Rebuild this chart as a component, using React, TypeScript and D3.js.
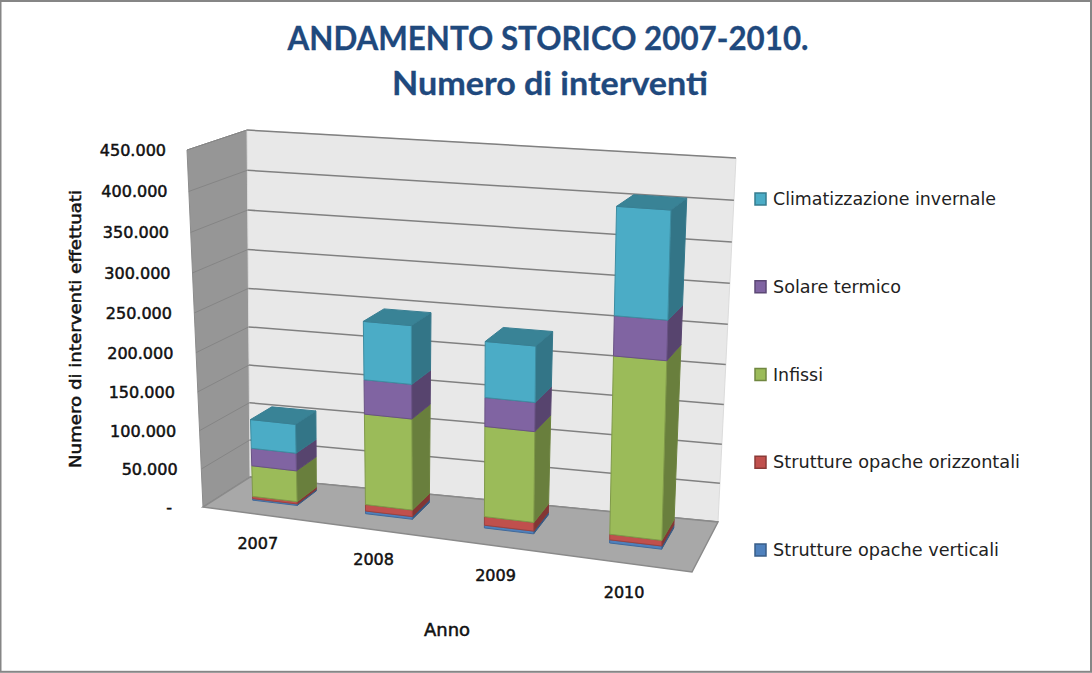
import React from "react";
import * as d3 from "d3";

const WIDTH = 1092;
const HEIGHT = 673;

const years = ["2007", "2008", "2009", "2010"];
const seriesNames = [
  "Strutture opache verticali",
  "Strutture opache orizzontali",
  "Infissi",
  "Solare termico",
  "Climatizzazione invernale",
];
const seriesColors = ["#4F81BD", "#C0504D", "#9BBB59", "#8064A2", "#4BACC6"];
const verticali = [2000, 3500, 3500, 4000];
const orizzontali = [3000, 8400, 11000, 7000];
const infissi = [40500, 116500, 114000, 219000];
const solare = [23000, 43500, 36000, 48000];
const climatizzazione = [37500, 73000, 69000, 128000];
const seriesValues = [verticali, orizzontali, infissi, solare, climatizzazione];

const ticks = [0, 50000, 100000, 150000, 200000, 250000, 300000, 350000, 400000, 450000];
const tickLabels = ["-", "50.000", "100.000", "150.000", "200.000", "250.000", "300.000", "350.000", "400.000", "450.000"];

// text widths as measured on the picture
const legendWidths = [226, 247, 50, 128, 223];

// cube corners of the 3D plot box on screen
const floorFL = [203, 507];
const floorFR = [692, 572];
const floorBL = [250, 477];
const floorBR = [718, 522];
const topFL = [187, 150];
const topFR = [701, 183];
const topBL = [247, 130];
const topBR = [736, 158];

const xBand = d3.scaleBand().domain(years).range([0, 1]).paddingInner(0.6).paddingOuter(0.3);
const yScale = d3.scaleLinear().domain([0, 450000]).range([0, 1]);

const persp = (t: number, r: number) => t / (t + (1 - t) * r);
const lerp = (a: number[], b: number[], t: number) => [a[0] + (b[0] - a[0]) * t, a[1] + (b[1] - a[1]) * t];

// u across the categories, w from front to back, v = data value
function project(u: number, w: number, v: number) {
  const pu = persp(u, 1.11);
  const t = persp(yScale(v), 1.05);
  const bottom = lerp(lerp(floorFL, floorFR, pu), lerp(floorBL, floorBR, pu), w);
  const top = lerp(lerp(topFL, topFR, pu), lerp(topBL, topBR, pu), w);
  return lerp(bottom, top, t);
}

const polyLine = d3.line().curve(d3.curveLinearClosed);
const quad = (pts: number[][]) => polyLine(pts as [number, number][]) as string;

const shade = (c: string, f: number) => {
  const q = d3.rgb(c);
  return d3.rgb(q.r * f, q.g * f, q.b * f).formatHex();
};

const stackRows = years.map((y, i) => {
  const row: Record<string, number | string> = { year: y };
  seriesNames.forEach((n, s) => (row[n] = seriesValues[s][i]));
  return row;
});
const stacked = d3.stack().keys(seriesNames)(stackRows as any);

const FRONT = 0.36;
const BACK = 0.8;

function Bar({ year }: { year: string }) {
  const i = years.indexOf(year);
  const u0 = xBand(year) as number;
  const u1 = u0 + xBand.bandwidth();
  return (
    <g>
      {stacked.map((layer, s) => {
        const [v0, v1] = layer[i];
        const color = seriesColors[s];
        const front = [project(u0, FRONT, v0), project(u1, FRONT, v0), project(u1, FRONT, v1), project(u0, FRONT, v1)];
        const side = [project(u1, FRONT, v0), project(u1, BACK, v0), project(u1, BACK, v1), project(u1, FRONT, v1)];
        const top = [project(u0, FRONT, v1), project(u1, FRONT, v1), project(u1, BACK, v1), project(u0, BACK, v1)];
        return (
          <g key={s} strokeWidth={1} strokeLinejoin="round">
            <path d={quad(side)} fill={shade(color, 0.68)} stroke={shade(color, 0.7)} />
            <path d={quad(front)} fill={color} stroke={shade(color, 0.82)} />
            {s === stacked.length - 1 && <path d={quad(top)} fill={shade(color, 0.76)} stroke={shade(color, 0.74)} />}
          </g>
        );
      })}
    </g>
  );
}

export default function App() {
  const legendY = d3.scalePoint().domain([...seriesNames].reverse()).range([199, 550]);
  const font = "'DejaVu Sans', sans-serif";
  return (
    <svg
      width={WIDTH}
      height={HEIGHT}
      viewBox={`0 0 ${WIDTH} ${HEIGHT}`}
      style={{ position: "absolute", left: 0, top: 0, background: "#fff" }}
    >
      <rect x={0.5} y={1} width={1090.5} height={670.8} fill="#fff" stroke="#868686" strokeWidth={2} />

      {/* title */}
      <g fontFamily="Lato, 'Open Sans', sans-serif" fontWeight={700} fill="#1F497D" stroke="#1F497D" strokeWidth={0.3} fontSize={32} textAnchor="middle">
        <text x={548} y={50} textLength={521} lengthAdjust="spacingAndGlyphs">ANDAMENTO STORICO 2007-2010.</text>
        <text x={550} y={95} textLength={316} lengthAdjust="spacingAndGlyphs">Numero di interventi</text>
      </g>

      {/* walls and floor */}
      <path d={quad([floorFL, topFL, topBL, floorBL])} fill="#969696" stroke="#8c8c8c" />
      <path d={quad([floorBL, topBL, topBR, floorBR])} fill="#E8E8E8" stroke="#dcdcdc" />
      {ticks.map((t) => (
        <g key={t} fill="none">
          <path d={d3.line()([project(0, 0, t), project(0, 1, t)] as [number, number][]) as string} stroke="#858585" strokeWidth={1} />
          <path d={d3.line()([project(0, 1, t), project(1, 1, t)] as [number, number][]) as string} stroke="#808080" strokeWidth={1.5} />
        </g>
      ))}
      <path d={quad([floorFL, floorFR, floorBR, floorBL])} fill="#A8A8A8" stroke="#8a8a8a" strokeWidth={1.5} />

      {years.map((y) => (
        <Bar key={y} year={y} />
      ))}

      {/* value axis labels */}
      <g fontFamily={font} fontSize={16} fill="#111" stroke="#111" strokeWidth={0.5} textAnchor="end">
        {ticks.map((t, i) => {
          const p = project(0, 0, t);
          return (
            <text key={t} x={p[0] - (t === 0 ? 31 : 21 + 3 * (1 - t / 450000))} y={p[1] + 6}>
              {tickLabels[i]}
            </text>
          );
        })}
      </g>

      {/* category labels */}
      <g fontFamily={font} fontSize={16} fill="#111" stroke="#111" strokeWidth={0.5} textAnchor="middle">
        {years.map((y) => {
          const p = project((xBand(y) as number) + xBand.bandwidth() / 2, 0, 0);
          return (
            <text key={y} x={p[0] - 1} y={p[1] + 35}>
              {y}
            </text>
          );
        })}
      </g>

      {/* axis titles */}
      <text x={447} y={636} fontFamily={font} fontSize={17} fill="#111" stroke="#111" strokeWidth={0.5} textAnchor="middle" textLength={46} lengthAdjust="spacingAndGlyphs">
        Anno
      </text>
      <text
        transform="translate(81,329) rotate(-90)"
        fontFamily={font}
        fontSize={16.5}
        fill="#111"
        stroke="#111"
        strokeWidth={0.5}
        textAnchor="middle"
        textLength={278}
        lengthAdjust="spacingAndGlyphs"
      >
        Numero di interventi effettuati
      </text>

      {/* legend */}
      <g fontFamily={font} fontSize={17} fill="#222">
        {seriesNames.map((n, s) => {
          const y = legendY(n) as number;
          return (
            <g key={n}>
              <rect x={755} y={y - 6} width={11} height={12} fill={seriesColors[s]} stroke={shade(seriesColors[s], 0.72)} strokeWidth={1.5} />
              <text x={773} y={y + 6} textLength={legendWidths[s]} lengthAdjust="spacingAndGlyphs">
                {n}
              </text>
            </g>
          );
        })}
      </g>
    </svg>
  );
}
